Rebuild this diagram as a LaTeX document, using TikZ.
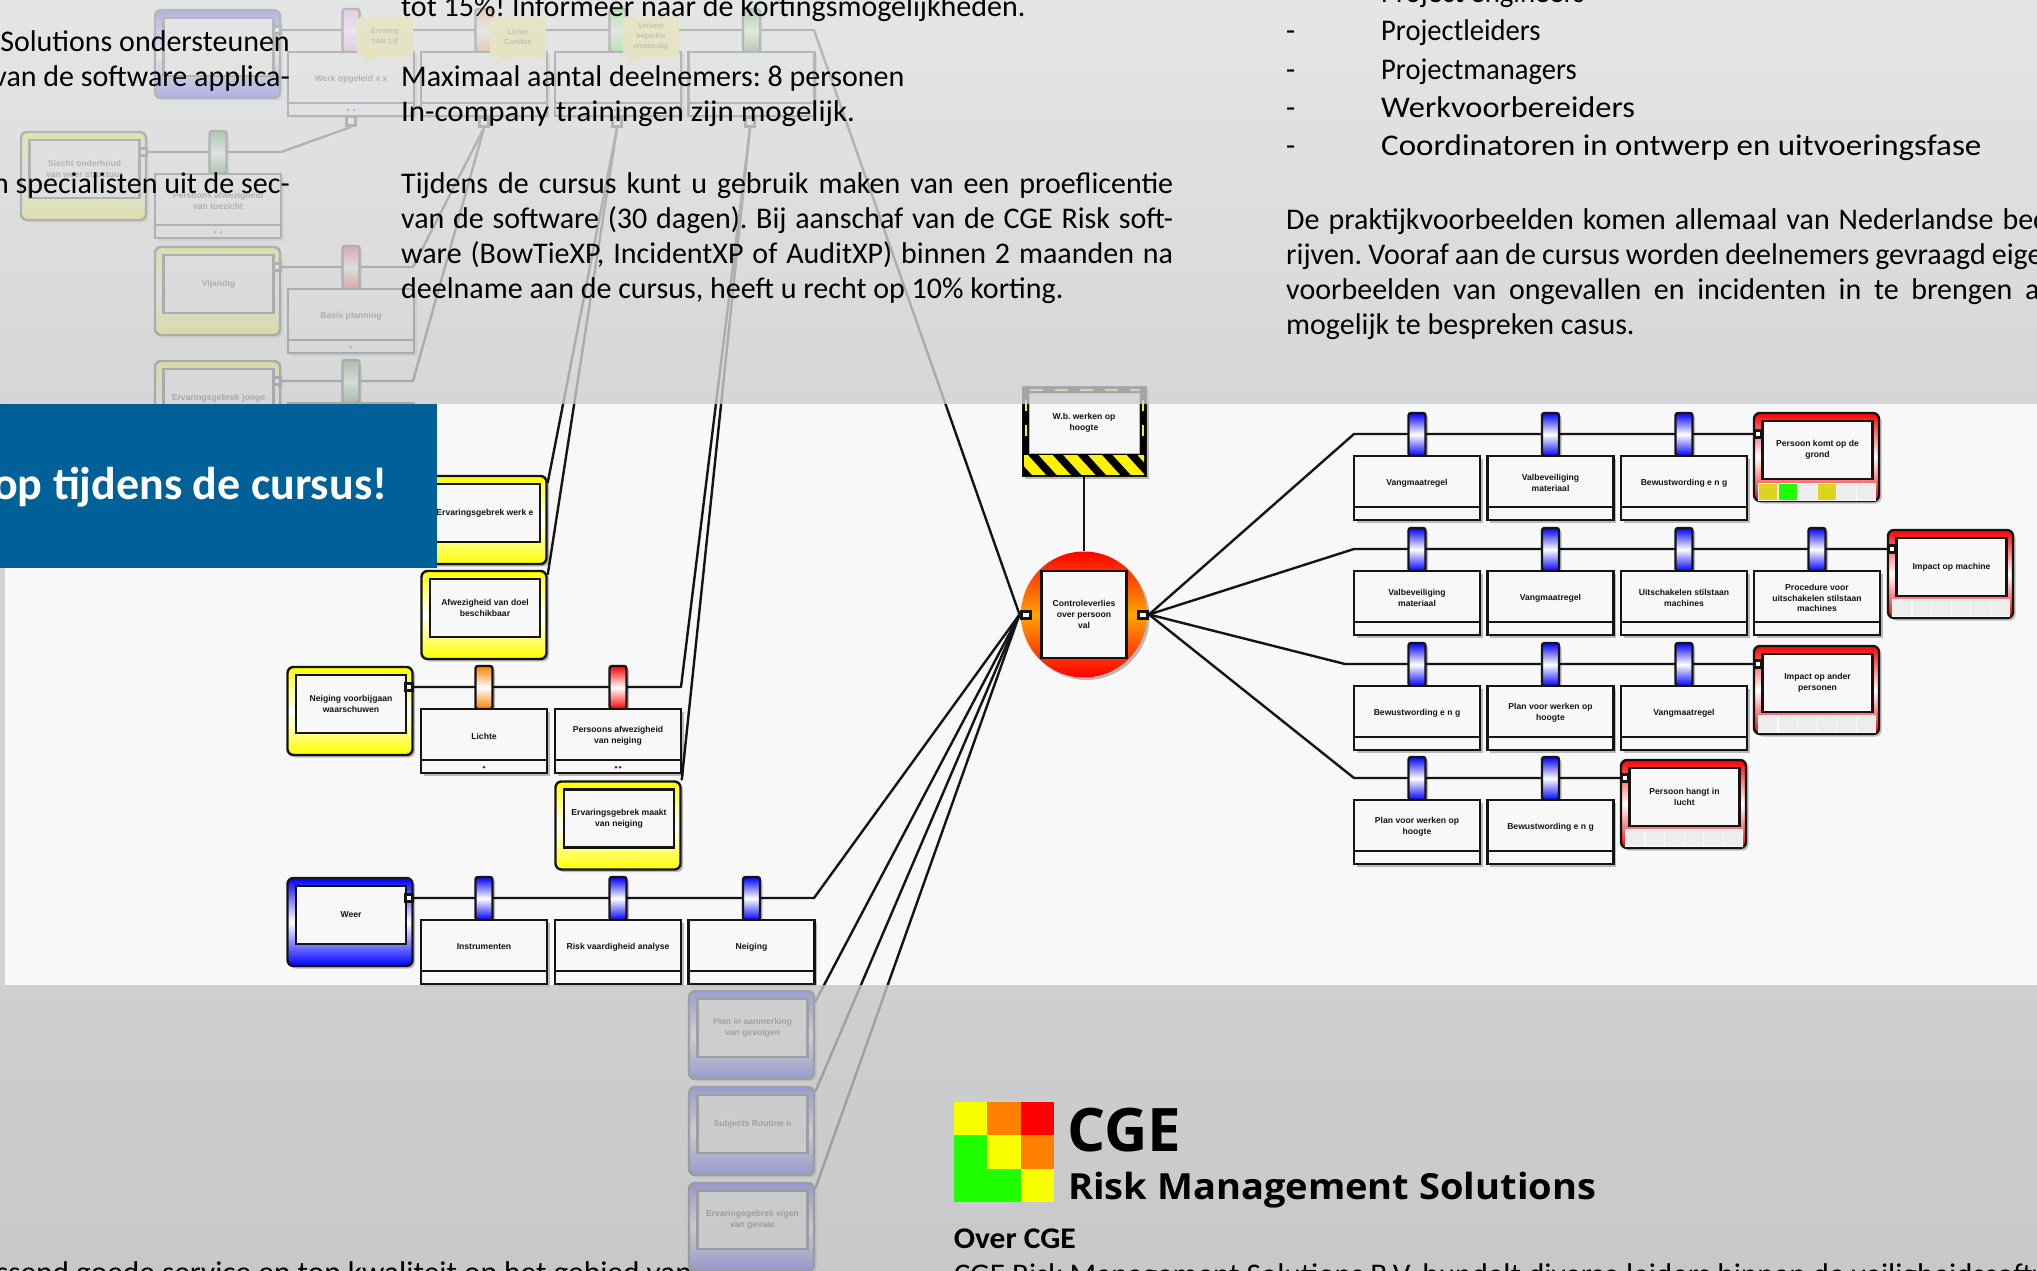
\documentclass[tikz,border=0pt]{standalone}
\usepackage{fontspec}
\usepackage{graphicx}
\setmainfont{Carlito}
\newfontfamily\lblfont{Liberation Sans}
\newfontfamily\logofont{Open Sans}
\usetikzlibrary{shadows,calc}
\pgfdeclarelayer{base}\pgfdeclarelayer{wires}\pgfdeclarelayer{over}
\pgfsetlayers{base,wires,main,over}
\frenchspacing
\definecolor{paper}{RGB}{248,248,248}
\definecolor{banner}{RGB}{0,96,152}
\definecolor{dgreen}{RGB}{0,128,0}
\definecolor{lgY}{RGB}{247,255,0}
\definecolor{lgO}{RGB}{255,128,0}
\definecolor{lgR}{RGB}{255,0,0}
\definecolor{lgG}{RGB}{30,255,0}
\definecolor{inkc}{RGB}{20,20,20}
\definecolor{evO}{RGB}{255,165,0}
\tikzset{
  shad/.style={drop shadow={shadow xshift=2.5pt,shadow yshift=-2.5pt,fill=black,opacity=.25}},
  wire/.style={draw=inkc,line width=2.4pt,line join=round},
  lbl/.style={inner sep=0pt,align=center,text=inkc,font=\lblfont\bfseries\fontsize{8.6}{10.7}\selectfont},
  block/.style={draw=inkc,line width=2.4pt,fill=paper,minimum width=126pt,minimum height=64pt,inner sep=0pt,shad},
  pill/.style={draw=inkc,line width=2.4pt,rounded corners=2.5pt,minimum width=17pt,minimum height=43pt,inner sep=0pt,shad},
  frameb/.style={draw=inkc,line width=2.4pt,rounded corners=6pt,minimum width=125pt,minimum height=88pt,inner sep=0pt,shad},
  innerb/.style={draw=inkc,line width=2.4pt,fill=paper,minimum width=110pt,minimum height=58pt,inner sep=0pt},
  port/.style={draw=inkc,line width=3pt,fill=white,minimum width=7pt,minimum height=7pt,inner sep=0pt},
  cell/.style={fill=#1,draw=gray!5,line width=.8pt,minimum width=19.4pt,minimum height=17pt,inner sep=0pt},
  note/.style={fill=yellow!65,rounded corners=4pt,minimum width=56pt,minimum height=40pt,inner sep=0pt,align=center,text=inkc,font=\lblfont\fontsize{7.5}{10}\selectfont},
  body/.style={anchor=base west,inner sep=0pt,text=black,font=\fontsize{30}{34}\selectfont},
  bodyr/.style={body,anchor=base east},
  pcolor/.style={top color=#1,bottom color=#1,middle color=white},
}
\newcommand{\hs}[2]{\scalebox{#1}[1]{#2}}
% barrier with its block: name, centre x, wire y, colour, label
\newcommand{\barrier}[5]{%
  \node[pill,pcolor=#4] (#1p) at ({#2},{#3+.5}) {};
  \node[block] (#1) at ({#2},{#3+54}) {};
  \draw[draw=inkc,line width=2.4pt] ([yshift=14pt]#1.south west) -- ([yshift=14pt]#1.south east);
  \node[lbl] (#1t) at ({#2},{#3+49}) {#5};
}
\newcommand{\stripdots}[2]{\foreach \d in {#2} {\fill[blue!75!magenta] ([xshift=\d pt,yshift=7pt]#1.south) circle (1.4pt);}}
% framed box: name, left, top, colour, label
\newcommand{\framedbox}[5]{%
  \node[frameb,pcolor=#4] (#1) at ({#2+62.5},{#3+44}) {};
  \node[innerb,lbl,draw=inkc,fill=paper,minimum width=110pt,minimum height=58pt,line width=2.4pt] (#1i) at ({#2+63.5},{#3+37}) {#5};
}
\newcommand{\cellrow}[8]{%
  \fill[gray!14] ({#2+4},{#8-8.5}) rectangle ({#2+122},{#8+8.5});
  \node[cell=#3] (#1a) at ({#2+14},{#8}) {};
  \node[cell=#4] (#1b) at ({#2+33.6},{#8}) {};
  \node[cell=#5] (#1c) at ({#2+53.2},{#8}) {};
  \node[cell=#6] (#1d) at ({#2+72.8},{#8}) {};
  \node[cell=#7] (#1e) at ({#2+92.4},{#8}) {};
  \node[cell=gray!14] (#1f) at ({#2+112},{#8}) {};
}
\begin{document}
\begin{tikzpicture}[x=1pt,y=-1pt]
\useasboundingbox (0,0) rectangle (2037,1271);
\begin{pgfonlayer}{base}
  \fill[paper] (0,0) rectangle (2037,1271);
\end{pgfonlayer}

% ---------- Hazard
\node[draw=inkc,line width=1pt,fill=black,minimum width=124pt,minimum height=90pt,inner sep=0pt,shad] (hz) at (1084,431) {};
\begin{scope}
  \clip (1024,455) rectangle (1144,474);
  \foreach \i in {0,...,5} {\fill[yellow] ({1012+24.7*\i},453) -- ({1026+24.7*\i},453) -- ({1047+24.7*\i},476) -- ({1033+24.7*\i},476) -- cycle;}
\end{scope}
\draw[yellow,line width=2pt,dash pattern=on 13pt off 12pt] (1030,389.5) -- (1140,389.5);
\draw[yellow,line width=2pt,dash pattern=on 11pt off 14pt] (1025.5,400) -- (1025.5,450);
\draw[yellow,line width=2pt,dash pattern=on 11pt off 14pt] (1142.5,400) -- (1142.5,450);
\node[lbl,draw=gray!60,line width=1pt,fill=paper,minimum width=110pt,minimum height=60pt] (hzi) at (1084,423) {W.b. werken op\\hoogte};

% ---------- Top event
\node[circle,minimum size=126pt,inner sep=0pt,top color=lgR,bottom color=lgR,middle color=evO,shad] (ev) at (1084,614.5) {};
\node[lbl,draw=inkc,line width=2.4pt,fill=paper,minimum width=85pt,minimum height=87pt] (evi) at (1084,614.5) {Controleverlies\\over persoon\\val};
\node[port,minimum width=9pt] (evL) at (1025.5,614.5) {};
\node[port,minimum width=9pt] (evR) at (1143,614.5) {};

% ---------- Right side, consequences
\framedbox{c1}{1754}{413}{red}{Persoon komt op de\\grond}
\cellrow{c1}{1754}{yellow!85!black}{lgG}{gray!14}{yellow!85!black}{gray!14}{492}
\framedbox{c2}{1888}{530}{red}{Impact op machine}
\cellrow{c2}{1888}{gray!14}{gray!14}{gray!14}{gray!14}{gray!14}{608}
\framedbox{c3}{1754}{646}{red}{Impact op ander\\personen}
\cellrow{c3}{1754}{gray!14}{gray!14}{gray!14}{gray!14}{gray!14}{724}
\framedbox{c4}{1621}{760}{red}{Persoon hangt in\\lucht}
\cellrow{c4}{1621}{gray!14}{gray!14}{gray!14}{gray!14}{gray!14}{838}
\node[port] (c1P) at (1758,434) {};
\node[port] (c2P) at (1892,549) {};
\node[port] (c3P) at (1758,664) {};
\node[port] (c4P) at (1625,778) {};

\barrier{ra}{1417}{434}{blue}{Vangmaatregel}
\barrier{rb}{1550.5}{434}{blue}{Valbeveiliging\\materiaal}
\barrier{rc}{1684}{434}{blue}{Bewustwording e n g}
\barrier{sa}{1417}{549}{blue}{Valbeveiliging\\materiaal}
\barrier{sb}{1550.5}{549}{blue}{Vangmaatregel}
\barrier{sc}{1684}{549}{blue}{Uitschakelen stilstaan\\machines}
\barrier{sd}{1817}{549}{blue}{Procedure voor\\uitschakelen stilstaan\\machines}
\barrier{ta}{1417}{664}{blue}{Bewustwording e n g}
\barrier{tb}{1550.5}{664}{blue}{Plan voor werken op\\hoogte}
\barrier{tc}{1684}{664}{blue}{Vangmaatregel}
\barrier{ua}{1417}{778}{blue}{Plan voor werken op\\hoogte}
\barrier{ub}{1550.5}{778}{blue}{Bewustwording e n g}

\coordinate (b1) at (1354,434);
\coordinate (b2) at (1354,549);
\coordinate (b3) at (1345,664);
\coordinate (b4) at (1354,778);

% ---------- Left side, threats in the white band
\framedbox{th}{287.5}{667}{yellow}{Neiging voorbijgaan\\waarschuwen}
\framedbox{ea}{421.5}{476}{yellow}{Ervaringsgebrek  werk e}
\framedbox{eb}{421.5}{571}{yellow}{Afwezigheid van doel\\beschikbaar}
\framedbox{ec}{555.5}{781.5}{yellow}{Ervaringsgebrek maakt\\van neiging}
\framedbox{tw}{287.5}{878}{blue}{Weer}
\node[port] (thP) at (409,687) {};
\node[port] (twP) at (409,898) {};
\barrier{la}{484}{687}{orange}{Lichte}
\barrier{lb}{618}{687}{red}{Persoons afwezigheid\\van neiging}
\stripdots{la}{0}
\stripdots{lb}{-2,2}
\barrier{ma}{484}{898}{blue}{Instrumenten}
\barrier{mb}{618}{898}{blue}{Risk vaardigheid analyse}
\barrier{mc}{751.5}{898}{blue}{Neiging}
\coordinate (ba) at (681,687);
\coordinate (bw) at (814,898);

% ---------- Left side, above the band
\framedbox{ua1}{155}{10}{blue}{}
\framedbox{ua2}{21}{132}{yellow}{Slecht onderhoud\\van weer structuur}
\framedbox{ua3}{155}{247}{yellow}{Vijandig}
\framedbox{ua4}{155}{361}{yellow}{Ervaringsgebrek jonge}
\node[port] (ua1P) at (277,30) {};
\node[port] (ua2P) at (143,152) {};
\node[port] (ua3P) at (277,267) {};
\node[port] (ua4P) at (277,381) {};
\barrier{ka}{351}{30}{magenta!50}{Werk opgeleid x x}
\barrier{kb}{484}{30}{orange}{}
\barrier{kc}{618}{30}{green}{}
\barrier{kd}{751.5}{30}{dgreen}{}
\stripdots{ka}{-3,3}
\stripdots{kb}{-3,3}
\stripdots{kc}{-3,3}
\stripdots{kd}{-3,3}
\node[note] (na) at (385,37) {Ervaring\\naar Lijf};
\node[note] (nb) at (518,37) {Lichte\\Conditie};
\node[note] (nc) at (651,37) {Verkeer\\beperkte\\omstandig};
\fill[yellow!65] (368,56) -- (362,66) -- (378,56) -- cycle;
\fill[yellow!65] (500,56) -- (494,66) -- (510,56) -- cycle;
\fill[yellow!65] (632,56) -- (626,66) -- (642,56) -- cycle;
\barrier{kg}{218}{152}{dgreen}{Persoons afwezigheid\\van toezicht}
\stripdots{kg}{-3,3}
\barrier{kh}{351}{267}{red}{Basis planning}
\stripdots{kh}{0}
\barrier{ki}{351}{381}{dgreen}{}
\node[port,minimum width=9pt,minimum height=9pt] (kaP) at (351,121) {};
\node[port,minimum width=9pt,minimum height=9pt] (kbP) at (484,122) {};
\node[port,minimum width=9pt,minimum height=9pt] (kcP) at (617,122) {};
\node[port,minimum width=9pt,minimum height=9pt] (kdP) at (750,122) {};
\coordinate (b0) at (814,30);
\coordinate (bg) at (281,152);
\coordinate (bh) at (413,267);
\coordinate (bi) at (413,381);

% ---------- below the band
\framedbox{bxa}{689}{991}{blue}{Plan in aanmerking\\van gevolgen}
\framedbox{bxb}{689}{1087}{blue}{Subjects  Routine n}
\framedbox{bxc}{689}{1183}{blue}{Ervaringsgebrek  eigen\\van gevaar}

% ---------- connectors
\begin{pgfonlayer}{wires}
  \draw[wire] (hz.south) -- (ev.north);
  \draw[wire] (evR.east) -- (b1) -- (c1P.west);
  \draw[wire] (evR.east) -- (b2) -- (c2P.west);
  \draw[wire] (evR.east) -- (b3) -- (c3P.west);
  \draw[wire] (evR.east) -- (b4) -- (c4P.west);
  \draw[wire] (ua1P.east) -- (b0) -- (evL.west);
  \draw[wire] (twP.east) -- (bw) -- (evL.west);
  \draw[wire] ([yshift=-12pt]bxa.north east) -- (evL.west);
  \draw[wire] ([yshift=-6pt]bxb.north east) -- (evL.west);
  \draw[wire] ([yshift=-7pt]bxc.north east) -- (evL.west);
  \draw[wire] (thP.east) -- (ba) -- (kdP.south);
  \draw[wire] (ec.north east) -- (kdP.south);
  \draw[wire] ([yshift=-8pt]ea.north east) -- (kcP.south);
  \draw[wire] ([yshift=-5pt]eb.north east) -- (kcP.south);
  \draw[wire] (ua2P.east) -- (bg) -- (kaP.south);
  \draw[wire] (ua3P.east) -- (bh) -- (kbP.south);
  \draw[wire] (ua4P.east) -- (bi) -- (kbP.south);
\end{pgfonlayer}

% ---------- translucent page over the diagram
\begin{pgfonlayer}{over}
  \shade[top color={rgb,255:red,224;green,225;blue,225},bottom color={rgb,255:red,205;green,206;blue,207},opacity=.8] (0,0) rectangle (2037,403);
  \shade[top color={rgb,255:red,195;green,197;blue,198},bottom color={rgb,255:red,188;green,189;blue,191},opacity=.8] (0,985) rectangle (2037,1271);
  \fill[gray!35] (0,403) rectangle (5,985);
  \fill[banner] (0,404) rectangle (437,568);
  \node[inner sep=0pt,anchor=base east,text=white,font=\bfseries\fontsize{46}{50}\selectfont] (bann) at (387.5,499.5) {op tijdens de cursus!};

  % texts
  \node[bodyr] (l1) at (290,52) {Solutions ondersteunen};
  \node[bodyr] (l2) at (290,87) {van de software applica-};
  \node[bodyr] (l3) at (290,193) {n specialisten uit de sec-};
  \node[body] (m0) at (401,17) {tot 15\%! Informeer naar de kortingsmogelijkheden.};
  \node[body] (m1) at (401,87) {Maximaal aantal deelnemers: 8 personen};
  \node[body] (m2) at (401,122) {\hs{1.03}{In-company trainingen zijn mogelijk.}};
  \node[body] (m3) at (401,193) {\makebox[772pt][s]{Tijdens de cursus kunt u gebruik maken van een proeflicentie}};
  \node[body] (m4) at (401,228) {\makebox[772pt][s]{van de software (30 dagen). Bij aanschaf van de CGE Risk soft-}};
  \node[body] (m5) at (401,263) {\makebox[772pt][s]{ware (BowTieXP, IncidentXP of AuditXP) binnen 2 maanden na}};
  \node[body] (m6) at (401,298) {deelname aan de cursus, heeft u recht op 10\% korting.};
  \node[body] (r0) at (1381,2.8) {\hs{.96}{Project engineers}};
  \node[body] (r1) at (1381,41) {\hs{.953}{Projectleiders}};
  \node[body] (r2) at (1381,79.4) {\hs{.953}{Projectmanagers}};
  \node[body] (r3) at (1381,117.7) {\hs{1.08}{Werkvoorbereiders}};
  \node[body] (r4) at (1381,156) {\hs{1.10}{Coordinatoren in ontwerp en uitvoeringsfase}};
  \node[body] (d1) at (1286,41) {-};
  \node[body] (d2) at (1286,79.4) {-};
  \node[body] (d3) at (1286,117.7) {-};
  \node[body] (d4) at (1286,156) {-};
  \node[body] (q1) at (1286,229.5) {\makebox[772pt][s]{De praktijkvoorbeelden komen allemaal van Nederlandse bed-}};
  \node[body] (q2) at (1286,264.5) {\makebox[772pt][s]{rijven. Vooraf aan de cursus worden deelnemers gevraagd eigen}};
  \node[body] (q3) at (1286,299.5) {\makebox[772pt][s]{voorbeelden van ongevallen en incidenten in te brengen als}};
  \node[body] (q4) at (1286,334.5) {mogelijk te bespreken casus.};
  \node[bodyr] (z1) at (692,1282) {\hs{1.045}{ssend goede service en top kwaliteit op het gebied van}};
  \node[body,font=\bfseries\fontsize{30}{34}\selectfont] (ov) at (953.6,1248) {\hs{1.05}{Over CGE}};
  \node[body] (ov2) at (953.6,1284) {\hs{1.04}{CGE Risk Management Solutions B.V. bundelt diverse leiders binnen de veiligheidssoftware}};

  % logo
  \foreach \c/\cx/\cy in {lgY/0/0,lgO/1/0,lgR/2/0,lgG/0/1,lgY/1/1,lgO/2/1,lgG/0/2,lgG/1/2,lgY/2/2} {
    \fill[\c] ({953.6+33.5*\cx},{1102+33.4*\cy}) rectangle ++(33.5,33.4);
  }
  \node[inner sep=0pt,anchor=base west,text=black,font=\logofont\bfseries\fontsize{60}{60}\selectfont] (cge) at (1067,1151) {CGE};
  \node[inner sep=0pt,anchor=base west,text=black,font=\logofont\bfseries\fontsize{36}{36}\selectfont] (rms) at (1068,1199) {\hs{1.057}{Risk Management Solutions}};
\end{pgfonlayer}
\end{tikzpicture}
\end{document}
